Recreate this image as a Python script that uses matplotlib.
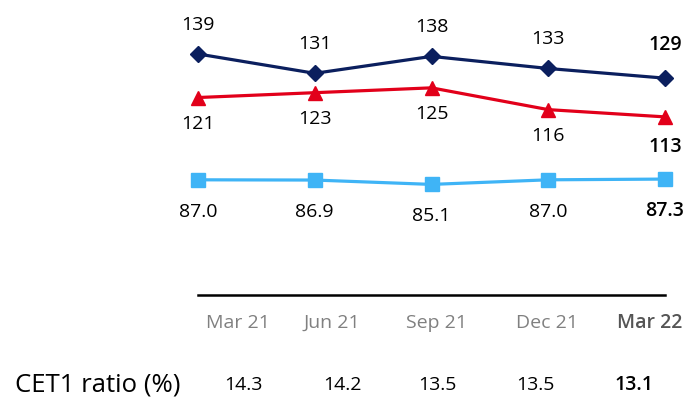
import numpy as np
import matplotlib.pyplot as plt

plt.rcParams['font.family'] = ['Open Sans', 'DejaVu Sans']

quarters = ['Mar 21', 'Jun 21', 'Sep 21', 'Dec 21', 'Mar 22']
navy_vals = [139, 131, 138, 133, 129]
red_vals = [121, 123, 125, 116, 113]
blue_vals = [87.0, 86.9, 85.1, 87.0, 87.3]
cet1 = [14.3, 14.2, 13.5, 13.5, 13.1]

# column centres (pixels) for the table under the chart
tick_px = [238, 332, 436, 547, 650]
cet_px = [243, 342, 437, 535, 634]

W, H = 700, 407
fig = plt.figure(figsize=(7, 4.07), dpi=100)
ax = fig.add_axes([198 / W, 1 - 295 / H, 467 / W, 295 / H])

x = np.arange(len(quarters))
ax.plot(x, navy_vals, color='#0b1f5e', lw=2.3, marker='D', ms=8, clip_on=False)
ax.plot(x, red_vals, color='#e2001a', lw=2.3, marker='^', ms=9.5, clip_on=False)
ax.plot(x, blue_vals, color='#3fb4f6', lw=2.3, marker='s', ms=10, clip_on=False)

ax.set_xlim(0, 4)
ax.set_ylim(39.4, 161.3)
for s in ['top', 'left', 'right']:
    ax.spines[s].set_visible(False)
ax.spines['bottom'].set_linewidth(1.8)
ax.spines['bottom'].set_color('black')
ax.set_xticks([])
ax.set_yticks([])

last = len(quarters) - 1
for i in range(len(quarters)):
    w = 'semibold' if i == last else 'normal'
    ax.annotate(f'{navy_vals[i]}', (i, navy_vals[i]), xytext=(0, 21 if i < last else 24),
                textcoords='offset points', ha='center', va='center', fontsize=14,
                fontweight=w, annotation_clip=False)
    ax.annotate(f'{red_vals[i]}', (i, red_vals[i]), xytext=(0, -19 if i < last else -22),
                textcoords='offset points', ha='center', va='center', fontsize=14,
                fontweight=w, annotation_clip=False)
    ax.annotate(f'{blue_vals[i]:.1f}', (i, blue_vals[i]), xytext=(0, -23),
                textcoords='offset points', ha='center', va='center', fontsize=14,
                fontweight=w, annotation_clip=False)

    fig.text(tick_px[i] / W, 1 - 323 / H, quarters[i], ha='center', va='center',
             fontsize=14, color='#555555' if i == last else '#808080',
             fontweight=w)
    fig.text(cet_px[i] / W, 1 - 385 / H, f'{cet1[i]:.1f}', ha='center', va='center',
             fontsize=14, color='black', fontweight=w)

fig.text(15 / W, 1 - 385 / H, 'CET1 ratio (%)', ha='left', va='center', fontsize=18.5,
         color='black')

fig.savefig('out.png', dpi=100)
